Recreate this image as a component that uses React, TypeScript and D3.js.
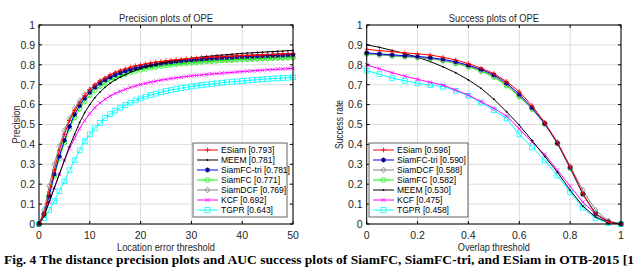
import React from 'react';
import * as d3 from 'd3';

// ---- data ----
const precisionThresholds = d3.range(0, 51);
const overlapThresholds = d3.range(0, 21).map(i => +(i * 0.05).toFixed(2));

const precESiam = [0, 0.05, 0.16, 0.27, 0.37, 0.45, 0.52, 0.57, 0.61, 0.645, 0.675, 0.70, 0.72, 0.735, 0.75, 0.762, 0.772, 0.78, 0.788, 0.795, 0.80, 0.805, 0.81, 0.814, 0.817, 0.82, 0.823, 0.826, 0.828, 0.83, 0.832, 0.834, 0.836, 0.837, 0.839, 0.84, 0.841, 0.842, 0.844, 0.845, 0.846, 0.847, 0.848, 0.849, 0.85, 0.851, 0.852, 0.853, 0.855, 0.856, 0.857];
const precMEEM = [0, 0.04, 0.11, 0.18, 0.25, 0.32, 0.39, 0.45, 0.51, 0.56, 0.60, 0.635, 0.663, 0.687, 0.707, 0.724, 0.738, 0.75, 0.762, 0.772, 0.781, 0.789, 0.796, 0.802, 0.808, 0.813, 0.818, 0.822, 0.826, 0.83, 0.833, 0.836, 0.839, 0.842, 0.844, 0.847, 0.849, 0.851, 0.853, 0.855, 0.857, 0.859, 0.86, 0.862, 0.863, 0.865, 0.866, 0.868, 0.869, 0.871, 0.872];
const precSiamFCtri = [0, 0.05, 0.14, 0.25, 0.34, 0.42, 0.49, 0.55, 0.595, 0.632, 0.662, 0.687, 0.707, 0.723, 0.737, 0.749, 0.759, 0.768, 0.776, 0.783, 0.789, 0.794, 0.799, 0.803, 0.807, 0.811, 0.814, 0.817, 0.82, 0.822, 0.825, 0.827, 0.829, 0.831, 0.833, 0.834, 0.836, 0.837, 0.838, 0.84, 0.841, 0.842, 0.843, 0.844, 0.845, 0.846, 0.847, 0.848, 0.849, 0.85, 0.851];
const precSiamFC = [0, 0.05, 0.14, 0.24, 0.33, 0.41, 0.48, 0.535, 0.58, 0.617, 0.647, 0.672, 0.692, 0.709, 0.723, 0.735, 0.745, 0.754, 0.762, 0.769, 0.775, 0.78, 0.785, 0.789, 0.793, 0.797, 0.8, 0.803, 0.806, 0.808, 0.811, 0.813, 0.815, 0.817, 0.818, 0.82, 0.822, 0.823, 0.824, 0.826, 0.827, 0.828, 0.829, 0.83, 0.831, 0.832, 0.833, 0.834, 0.835, 0.836, 0.837];
const precSiamDCF = [0, 0.07, 0.19, 0.30, 0.39, 0.47, 0.53, 0.58, 0.62, 0.65, 0.675, 0.695, 0.713, 0.728, 0.742, 0.753, 0.762, 0.77, 0.777, 0.783, 0.788, 0.792, 0.796, 0.8, 0.803, 0.806, 0.809, 0.811, 0.813, 0.815, 0.817, 0.819, 0.82, 0.822, 0.823, 0.825, 0.826, 0.827, 0.828, 0.829, 0.83, 0.831, 0.832, 0.833, 0.834, 0.835, 0.836, 0.837, 0.837, 0.838, 0.839];
const precKCF = [0, 0.04, 0.11, 0.18, 0.25, 0.32, 0.38, 0.43, 0.48, 0.52, 0.555, 0.585, 0.608, 0.627, 0.643, 0.656, 0.667, 0.677, 0.686, 0.694, 0.701, 0.707, 0.713, 0.718, 0.723, 0.727, 0.731, 0.735, 0.738, 0.741, 0.744, 0.747, 0.749, 0.752, 0.754, 0.756, 0.758, 0.76, 0.762, 0.764, 0.766, 0.768, 0.77, 0.771, 0.773, 0.775, 0.776, 0.778, 0.779, 0.781, 0.782];
const precTGPR = [0, 0.03, 0.07, 0.115, 0.165, 0.215, 0.27, 0.32, 0.37, 0.415, 0.45, 0.48, 0.508, 0.532, 0.552, 0.57, 0.585, 0.598, 0.61, 0.621, 0.631, 0.64, 0.648, 0.655, 0.662, 0.668, 0.673, 0.678, 0.683, 0.687, 0.691, 0.695, 0.698, 0.701, 0.704, 0.707, 0.71, 0.712, 0.715, 0.717, 0.719, 0.721, 0.723, 0.725, 0.727, 0.729, 0.731, 0.732, 0.734, 0.735, 0.737];

const succESiam = [0.878, 0.871, 0.866, 0.86, 0.855, 0.849, 0.838, 0.824, 0.806, 0.783, 0.756, 0.716, 0.665, 0.595, 0.51, 0.41, 0.287, 0.152, 0.05, 0.01, 0];
const succSiamFCtri = [0.86, 0.855, 0.85, 0.846, 0.842, 0.836, 0.828, 0.815, 0.798, 0.777, 0.75, 0.708, 0.652, 0.585, 0.505, 0.405, 0.283, 0.15, 0.05, 0.01, 0];
const succSiamDCF = [0.857, 0.851, 0.846, 0.842, 0.837, 0.831, 0.822, 0.81, 0.793, 0.772, 0.744, 0.7, 0.645, 0.58, 0.505, 0.41, 0.29, 0.17, 0.07, 0.015, 0];
const succSiamFC = [0.855, 0.85, 0.845, 0.841, 0.837, 0.831, 0.821, 0.807, 0.79, 0.768, 0.738, 0.695, 0.64, 0.578, 0.503, 0.405, 0.28, 0.15, 0.054, 0.01, 0];
const succMEEM = [0.9, 0.888, 0.872, 0.856, 0.838, 0.816, 0.79, 0.76, 0.724, 0.682, 0.627, 0.564, 0.497, 0.42, 0.34, 0.26, 0.17, 0.09, 0.035, 0.008, 0];
const succKCF = [0.8, 0.78, 0.76, 0.743, 0.727, 0.712, 0.698, 0.673, 0.648, 0.615, 0.581, 0.543, 0.478, 0.412, 0.35, 0.27, 0.19, 0.11, 0.05, 0.015, 0];
const succTGPR = [0.77, 0.753, 0.733, 0.72, 0.707, 0.698, 0.69, 0.67, 0.645, 0.61, 0.572, 0.53, 0.45, 0.385, 0.32, 0.243, 0.16, 0.082, 0.029, 0.005, 0];

const precLegend = ['ESiam [0.793]', 'MEEM [0.781]', 'SiamFC-tri [0.781]', 'SiamFC [0.771]', 'SiamDCF [0.769]', 'KCF [0.692]', 'TGPR [0.643]'];
const succLegend = ['ESiam [0.596]', 'SiamFC-tri [0.590]', 'SiamDCF [0.588]', 'SiamFC [0.582]', 'MEEM [0.530]', 'KCF [0.475]', 'TGPR [0.458]'];

const yTicks = d3.range(0, 11).map(i => i / 10);
const precXTicks = [0, 10, 20, 30, 40, 50];
const succXTicks = [0, 0.2, 0.4, 0.6, 0.8, 1];

const caption = 'Fig. 4 The distance precision plots and AUC success plots of SiamFC, SiamFC-tri, and ESiam in OTB-2015 [1';

type Style = { color: string; marker: string };
const styles: Record<string, Style> = {
  ESiam: { color: '#ff0000', marker: 'plus' },
  MEEM: { color: '#000000', marker: 'dot' },
  'SiamFC-tri': { color: '#0000ff', marker: 'star' },
  SiamFC: { color: '#00ff00', marker: 'circle' },
  SiamDCF: { color: '#808080', marker: 'diamond' },
  KCF: { color: '#ff00ff', marker: 'x' },
  TGPR: { color: '#00ffff', marker: 'square' },
};

const precSeries = [
  { name: 'ESiam', values: precESiam },
  { name: 'MEEM', values: precMEEM },
  { name: 'SiamFC-tri', values: precSiamFCtri },
  { name: 'SiamFC', values: precSiamFC },
  { name: 'SiamDCF', values: precSiamDCF },
  { name: 'KCF', values: precKCF },
  { name: 'TGPR', values: precTGPR },
];
const succSeries = [
  { name: 'ESiam', values: succESiam },
  { name: 'SiamFC-tri', values: succSiamFCtri },
  { name: 'SiamDCF', values: succSiamDCF },
  { name: 'SiamFC', values: succSiamFC },
  { name: 'MEEM', values: succMEEM },
  { name: 'KCF', values: succKCF },
  { name: 'TGPR', values: succTGPR },
];

const FONT = 'Liberation Sans, Arial, sans-serif';

function Marker({ type, x, y, color }: { type: string; x: number; y: number; color: string }) {
  const s = 2.4;
  const sw = 0.8;
  switch (type) {
    case 'plus':
      return <path d={`M${x - s},${y}H${x + s}M${x},${y - s}V${y + s}`} stroke={color} strokeWidth={sw} />;
    case 'x':
      return <path d={`M${x - s * 0.8},${y - s * 0.8}L${x + s * 0.8},${y + s * 0.8}M${x - s * 0.8},${y + s * 0.8}L${x + s * 0.8},${y - s * 0.8}`} stroke={color} strokeWidth={sw} />;
    case 'star':
      return <path d={`M${x - s},${y}H${x + s}M${x},${y - s}V${y + s}M${x - s * 0.75},${y - s * 0.75}L${x + s * 0.75},${y + s * 0.75}M${x - s * 0.75},${y + s * 0.75}L${x + s * 0.75},${y - s * 0.75}`} stroke="#00008b" strokeWidth={1.1} />;
    case 'circle':
      return <circle cx={x} cy={y} r={s} fill="none" stroke={color} strokeWidth={sw} />;
    case 'diamond':
      return <path d={`M${x},${y - s * 1.2}L${x + s},${y}L${x},${y + s * 1.2}L${x - s},${y}Z`} fill="none" stroke={color} strokeWidth={sw} />;
    case 'square':
      return <rect x={x - s} y={y - s} width={2 * s} height={2 * s} fill="none" stroke={color} strokeWidth={sw} />;
    case 'dot':
      return <circle cx={x} cy={y} r={0.9} fill={color} />;
    default:
      return null;
  }
}

interface PanelProps {
  x0: number; x1: number;
  xDomain: [number, number];
  xs: number[];
  series: { name: string; values: number[] }[];
  xTicks: number[];
  title: string; titleWidth: number;
  xLabel: string; xLabelWidth: number;
  yLabel: string; yLabelX: number; yLabelWidth: number;
  legend: string[]; legendX: number; legendW: number;
}

function Panel(p: PanelProps) {
  const top = 25, bottom = 224;
  const x = d3.scaleLinear().domain(p.xDomain).range([p.x0, p.x1]);
  const y = d3.scaleLinear().domain([0, 1]).range([bottom, top]);
  const line = d3.line<number>().x((_, i) => x(p.xs[i])).y(d => y(d));
  const cx = (p.x0 + p.x1) / 2;
  const fmt = (v: number) => (v === 0 ? '0' : v === 1 ? '1' : String(v));
  const legendTop = 143;
  return (
    <g>
      {/* grid */}
      {p.xTicks.map(t => (
        <line key={'gx' + t} x1={x(t)} x2={x(t)} y1={top} y2={bottom} stroke="#dcdcdc" strokeWidth={1} />
      ))}
      {yTicks.map(t => (
        <line key={'gy' + t} x1={p.x0} x2={p.x1} y1={y(t)} y2={y(t)} stroke="#dcdcdc" strokeWidth={1} />
      ))}
      {/* series */}
      {[...p.series].reverse().map(s => {
        const st = styles[s.name];
        return (
          <g key={s.name}>
            <path d={line(s.values) || ''} fill="none" stroke={st.color} strokeWidth={1} />
            {s.values.map((v, i) => (
              <Marker key={i} type={st.marker} x={x(p.xs[i])} y={y(v)} color={st.color} />
            ))}
          </g>
        );
      })}
      {/* box + ticks */}
      <rect x={p.x0} y={top} width={p.x1 - p.x0} height={bottom - top} fill="none" stroke="#000" strokeWidth={1} />
      {p.xTicks.map(t => (
        <g key={'tx' + t}>
          <line x1={x(t)} x2={x(t)} y1={bottom} y2={bottom - 3} stroke="#000" />
          <line x1={x(t)} x2={x(t)} y1={top} y2={top + 3} stroke="#000" />
          <text x={x(t)} y={238.5} textAnchor="middle" fontSize={10.5} fontFamily={FONT} fill="#262626">{fmt(t)}</text>
        </g>
      ))}
      {yTicks.map(t => (
        <g key={'ty' + t}>
          <line x1={p.x0} x2={p.x0 + 3} y1={y(t)} y2={y(t)} stroke="#000" />
          <line x1={p.x1} x2={p.x1 - 3} y1={y(t)} y2={y(t)} stroke="#000" />
          <text x={p.x0 - 4} y={y(t) + 3.8} textAnchor="end" fontSize={10.5} fontFamily={FONT} fill="#262626">{fmt(t)}</text>
        </g>
      ))}
      {/* labels */}
      <text x={cx} y={22} textAnchor="middle" fontSize={10} fontFamily={FONT} fill="#262626" textLength={p.titleWidth} lengthAdjust="spacingAndGlyphs">{p.title}</text>
      <text x={cx} y={251} textAnchor="middle" fontSize={10} fontFamily={FONT} fill="#262626" textLength={p.xLabelWidth} lengthAdjust="spacingAndGlyphs">{p.xLabel}</text>
      <text transform={`translate(${p.yLabelX},${(top + bottom) / 2}) rotate(-90)`} textAnchor="middle" fontSize={10} fontFamily={FONT} fill="#262626" textLength={p.yLabelWidth} lengthAdjust="spacingAndGlyphs">{p.yLabel}</text>
      {/* legend */}
      <rect x={p.legendX} y={legendTop} width={p.legendW} height={74} fill="#fff" stroke="#404040" strokeWidth={0.8} />
      {p.legend.map((label, i) => {
        const name = label.split(' ')[0];
        const st = styles[name];
        const ly = 150 + i * 10;
        return (
          <g key={label}>
            <line x1={p.legendX + 4} x2={p.legendX + 25} y1={ly} y2={ly} stroke={st.color} strokeWidth={1} />
            <Marker type={st.marker} x={p.legendX + 14.5} y={ly} color={st.color} />
            <text x={p.legendX + 28} y={ly + 3} fontSize={8.5} fontFamily={FONT} fill="#000">{label}</text>
          </g>
        );
      })}
    </g>
  );
}

export default function App() {
  return (
    <svg width={640} height={269} style={{ position: 'absolute', left: 0, top: 0, background: '#fff' }}>
      <rect width={640} height={269} fill="#fff" />
      <Panel
        x0={39} x1={293} xDomain={[0, 50]} xs={precisionThresholds} series={precSeries} xTicks={precXTicks}
        title="Precision plots of OPE" titleWidth={94}
        xLabel="Location error threshold" xLabelWidth={98}
        yLabel="Precision" yLabelX={19.5} yLabelWidth={38}
        legend={precLegend} legendX={193} legendW={94}
      />
      <Panel
        x0={366.7} x1={621} xDomain={[0, 1]} xs={overlapThresholds} series={succSeries} xTicks={succXTicks}
        title="Success plots of OPE" titleWidth={90}
        xLabel="Overlap threshold" xLabelWidth={72}
        yLabel="Success rate" yLabelX={343} yLabelWidth={49}
        legend={succLegend} legendX={369} legendW={99}
      />
      <text x={4} y={263.5} fontSize={13.2} fontWeight="bold" fontFamily="Liberation Serif, Times New Roman, serif" fill="#000" textLength={630} lengthAdjust="spacingAndGlyphs">
        {caption}
      </text>
    </svg>
  );
}
